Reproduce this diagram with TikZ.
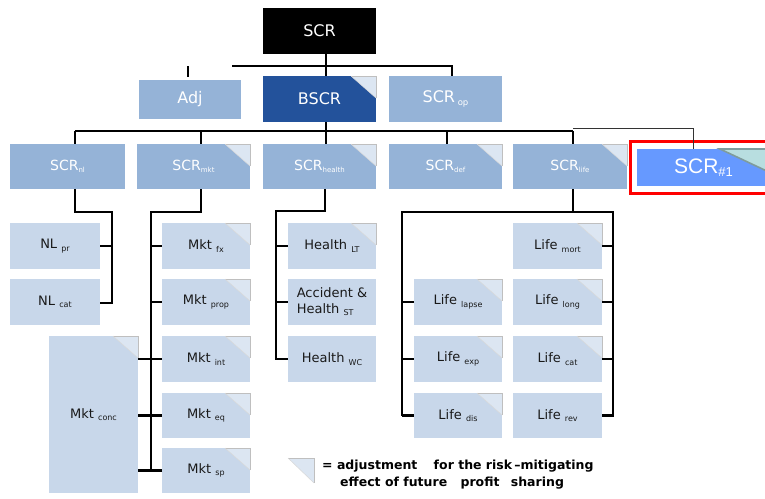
\documentclass[tikz,border=0pt]{standalone}
\usepackage{fontspec}
\setmainfont{DejaVu Sans}
\newfontfamily\arialfont{Liberation Sans}
\definecolor{litebox}{HTML}{95B3D7}
\definecolor{darkbox}{HTML}{23529B}
\definecolor{palebox}{HTML}{C8D7EA}
\definecolor{foldfill}{HTML}{DCE6F2}
\definecolor{foldline}{HTML}{BFBFBF}
\definecolor{brightbox}{HTML}{6699FF}
\definecolor{tealfold}{HTML}{B8DEE0}
\definecolor{tealline}{HTML}{7F9C9C}
\definecolor{redframe}{HTML}{FF0000}

% box: style, name, x1, y1, x2, y2, text  (pixel units, y downwards)
\newcommand\bx[7]{\node[#1, anchor=north west, minimum width={(#5)-(#3)},
  minimum height={(#6)-(#4)}] (#2) at (#3,#4) {#7};}
% folded corner at the top right of a box
\newcommand\fold[1]{%
  \fill[foldfill] (#1.north east) -- ++(-25,0) -- ++(25,22) -- cycle;
  \draw[foldline, line width=0.8pt] (#1.north east) ++(-25,0) -- (#1.north east) -- ++(0,22);
  \draw[foldline!60, line width=0.5pt] (#1.north east) ++(-25,0) -- ++(25,22);}
% lowered small index
\newcommand\ix[2][7]{\raisebox{-2.5pt}{\fontsize{#1}{#1}\selectfont #2}}

\begin{document}
\begin{tikzpicture}[x=1pt, y=-1pt,
  base/.style={inner sep=0pt, outer sep=0pt, align=center},
  blackbox/.style={base, fill=black, text=white, font=\fontsize{16}{18}\selectfont},
  topbox/.style={base, fill=litebox, text=white, font=\fontsize{16}{18}\selectfont},
  bluebox/.style={base, fill=darkbox, text=white, font=\fontsize{16}{18}\selectfont},
  midbox/.style={base, fill=litebox, text=white, font=\fontsize{14}{16}\selectfont},
  leafbox/.style={base, fill=palebox, text=black!90, font=\fontsize{13}{15.5}\selectfont},
  keytext/.style={anchor=west, inner sep=0pt, font=\bfseries\fontsize{12.5}{14}\selectfont},
  conn/.style={draw=black, line width=2.2pt},
  thinconn/.style={draw=black!80, line width=0.9pt}]
\useasboundingbox (0,0) rectangle (765,498);
\clip (0,0) rectangle (765,498);

% ---- top levels
\bx{blackbox}{scr}{263}{8}{376}{54}{SCR}
\bx{topbox}{adj}{139}{80}{241}{119}{Adj}
\bx{bluebox}{bscr}{263}{76}{376}{122}{BSCR}
\bx{topbox}{sop}{389}{76}{502}{122}{SCR\,\ix[8.5]{op}}
\fold{bscr}

% ---- module level
\bx{midbox}{snl}{10}{144}{125}{189}{SCR\ix{nl}}
\bx{midbox}{smkt}{137}{144}{250}{189}{SCR\ix{mkt}}
\bx{midbox}{shl}{263}{144}{376}{189}{SCR\ix{health}}
\bx{midbox}{sdef}{389}{144}{502}{189}{SCR\ix{def}}
\bx{midbox}{slife}{513}{144}{627}{189}{SCR\ix{life}}
\foreach \n in {smkt,shl,sdef,slife} {\fold{\n}}

% extra module with red frame
\draw[redframe, line width=3pt] (630,141.5) rectangle (800,193.5);
\bx{base, fill=brightbox, text=white, font=\arialfont\fontsize{21}{24}\selectfont}{sone}{637}{149}{790}{186}{\hspace*{-20pt}SCR\raisebox{-3pt}{\fontsize{13}{13}\selectfont\#1}}
\fill[tealfold] (720,149) -- (790,149) -- (790,182) -- cycle;
\draw[tealline, line width=1.6pt] (790,149) -- (720,149) -- (790,182);

% ---- sub-modules
\bx{leafbox}{nlpr}{10}{223}{100}{269}{NL\ \ix[8]{pr}}
\bx{leafbox}{nlcat}{10}{279}{100}{325}{NL\ \ix[8]{cat}}

\bx{leafbox}{mktfx}{162}{223}{250}{269}{Mkt\ \ix[8]{fx}}
\bx{leafbox}{mktprop}{162}{279}{250}{325}{Mkt\ \ix[8]{prop}}
\bx{leafbox}{mktint}{162}{336}{250}{382}{Mkt\ \ix[8]{int}}
\bx{leafbox}{mkteq}{162}{393}{250}{438}{Mkt\ \ix[8]{eq}}
\bx{leafbox}{mktsp}{162}{448}{250}{493}{Mkt\ \ix[8]{sp}}
\bx{leafbox}{mktconc}{49}{336}{138}{493}{Mkt\ \ix[8]{conc}}
\foreach \n in {mktfx,mktprop,mktint,mkteq,mktsp,mktconc} {\fold{\n}}

\bx{leafbox}{hlt}{288}{223}{376}{269}{Health\ \ix[8]{LT}}
\bx{leafbox, align=left}{hst}{288}{279}{376}{325}{Accident \&\\Health\ \ix[8]{ST}}
\bx{leafbox}{hwc}{288}{336}{376}{382}{Health\ \ix[8]{WC}}
\fold{hlt}

\bx{leafbox}{llapse}{414}{279}{502}{325}{Life\ \ix[8]{lapse}}
\bx{leafbox}{lexp}{414}{336}{502}{382}{Life\ \ix[8]{exp}}
\bx{leafbox}{ldis}{414}{393}{502}{438}{Life\ \ix[8]{dis}}
\bx{leafbox}{lmort}{513}{223}{602}{269}{Life\ \ix[8]{mort}}
\bx{leafbox}{llong}{513}{279}{602}{325}{Life\ \ix[8]{long}}
\bx{leafbox}{lcat}{513}{336}{602}{382}{Life\ \ix[8]{cat}}
\bx{leafbox}{lrev}{513}{393}{602}{438}{Life\ \ix[8]{rev}}
\foreach \n in {llapse,lexp,ldis,lmort,llong,lcat} {\fold{\n}}

% ---- connectors: top level
\coordinate (adjtap) at (188,66);
\coordinate (busL) at (232,66);
\coordinate (busR) at (452,66);
\draw[conn] (adjtap) -- ++(0,11);
\draw[conn] (busL) -- (busR) -- (busR |- sop.north);
\draw[conn] (326,0 |- scr.south) -- (326,0 |- bscr.north);

% ---- connectors: module level
\coordinate (m1) at (75,131);
\coordinate (m5) at (573,131);
\draw[conn] (326,0 |- bscr.south) -- (326,131);
\draw[conn] (m1) -- (m5);
\draw[conn] (m1) -- (m1 |- snl.north);
\draw[conn] (201,131) -- (201,0 |- smkt.north);
\draw[conn] (326,131) -- (326,0 |- shl.north);
\draw[conn] (447,131) -- (447,0 |- sdef.north);
\draw[conn] (m5) -- (m5 |- slife.north);
\draw[thinconn] (573,128) -- (693,128) -- (693,0 |- sone.north);

% ---- connectors: non-life
\draw[conn] (75,0 |- snl.south) -- (75,212) -- (112,212) -- (112,303) -- (nlcat.east |- 0,303);
\draw[conn] (112,0 |- nlpr.east) -- (nlpr.east);

% ---- connectors: market
\draw[conn] (201,0 |- smkt.south) -- (201,212) -- (151,212) -- (151,472);
\draw[conn] (151,0 |- mktfx.west) -- (mktfx.west);
\draw[conn] (151,0 |- mktprop.west) -- (mktprop.west);
\draw[conn] (mktint.west) -- (mktint.west -| mktconc.east);
\draw[conn] (mkteq.west) -- (mkteq.west -| mktconc.east);
\draw[conn] (mktsp.west) -- (mktsp.west -| mktconc.east);

% ---- connectors: health
\draw[conn] (325,0 |- shl.south) -- (325,211) -- (276,211) -- (276,0 |- hwc.west) -- (hwc.west);
\draw[conn] (276,0 |- hlt.west) -- (hlt.west);
\draw[conn] (276,0 |- hst.west) -- (hst.west);

% ---- connectors: life
\draw[conn] (573,0 |- slife.south) -- (573,212);
\draw[conn] (402,0 |- ldis.west) -- (402,212) -- (613,212) -- (613,0 |- lrev.east) -- (lrev.east);
\draw[conn] (402,0 |- llapse.west) -- (llapse.west);
\draw[conn] (402,0 |- lexp.west) -- (lexp.west);
\draw[conn] (402,0 |- ldis.west) -- (ldis.west);
\draw[conn] (lmort.east) -- (613,0 |- lmort.east);
\draw[conn] (llong.east) -- (613,0 |- llong.east);
\draw[conn] (lcat.east) -- (613,0 |- lcat.east);

% ---- key
\coordinate (keyfold) at (314,458);
\fill[foldfill] (keyfold) -- ++(-26,0) -- ++(26,25) -- cycle;
\draw[foldline, line width=0.8pt] (keyfold) ++(-26,0) -- (keyfold) -- ++(0,25);
\draw[foldline!60, line width=0.5pt] (keyfold) ++(-26,0) -- ++(26,25);
\node[keytext] (key1) at (322,466)
  {= adjustment\hspace{12pt} for the risk\,–mitigating};
\node[keytext] (key2) at (340,483)
  {effect of future\hspace{9pt} profit\hspace{7pt} sharing};
\end{tikzpicture}
\end{document}
